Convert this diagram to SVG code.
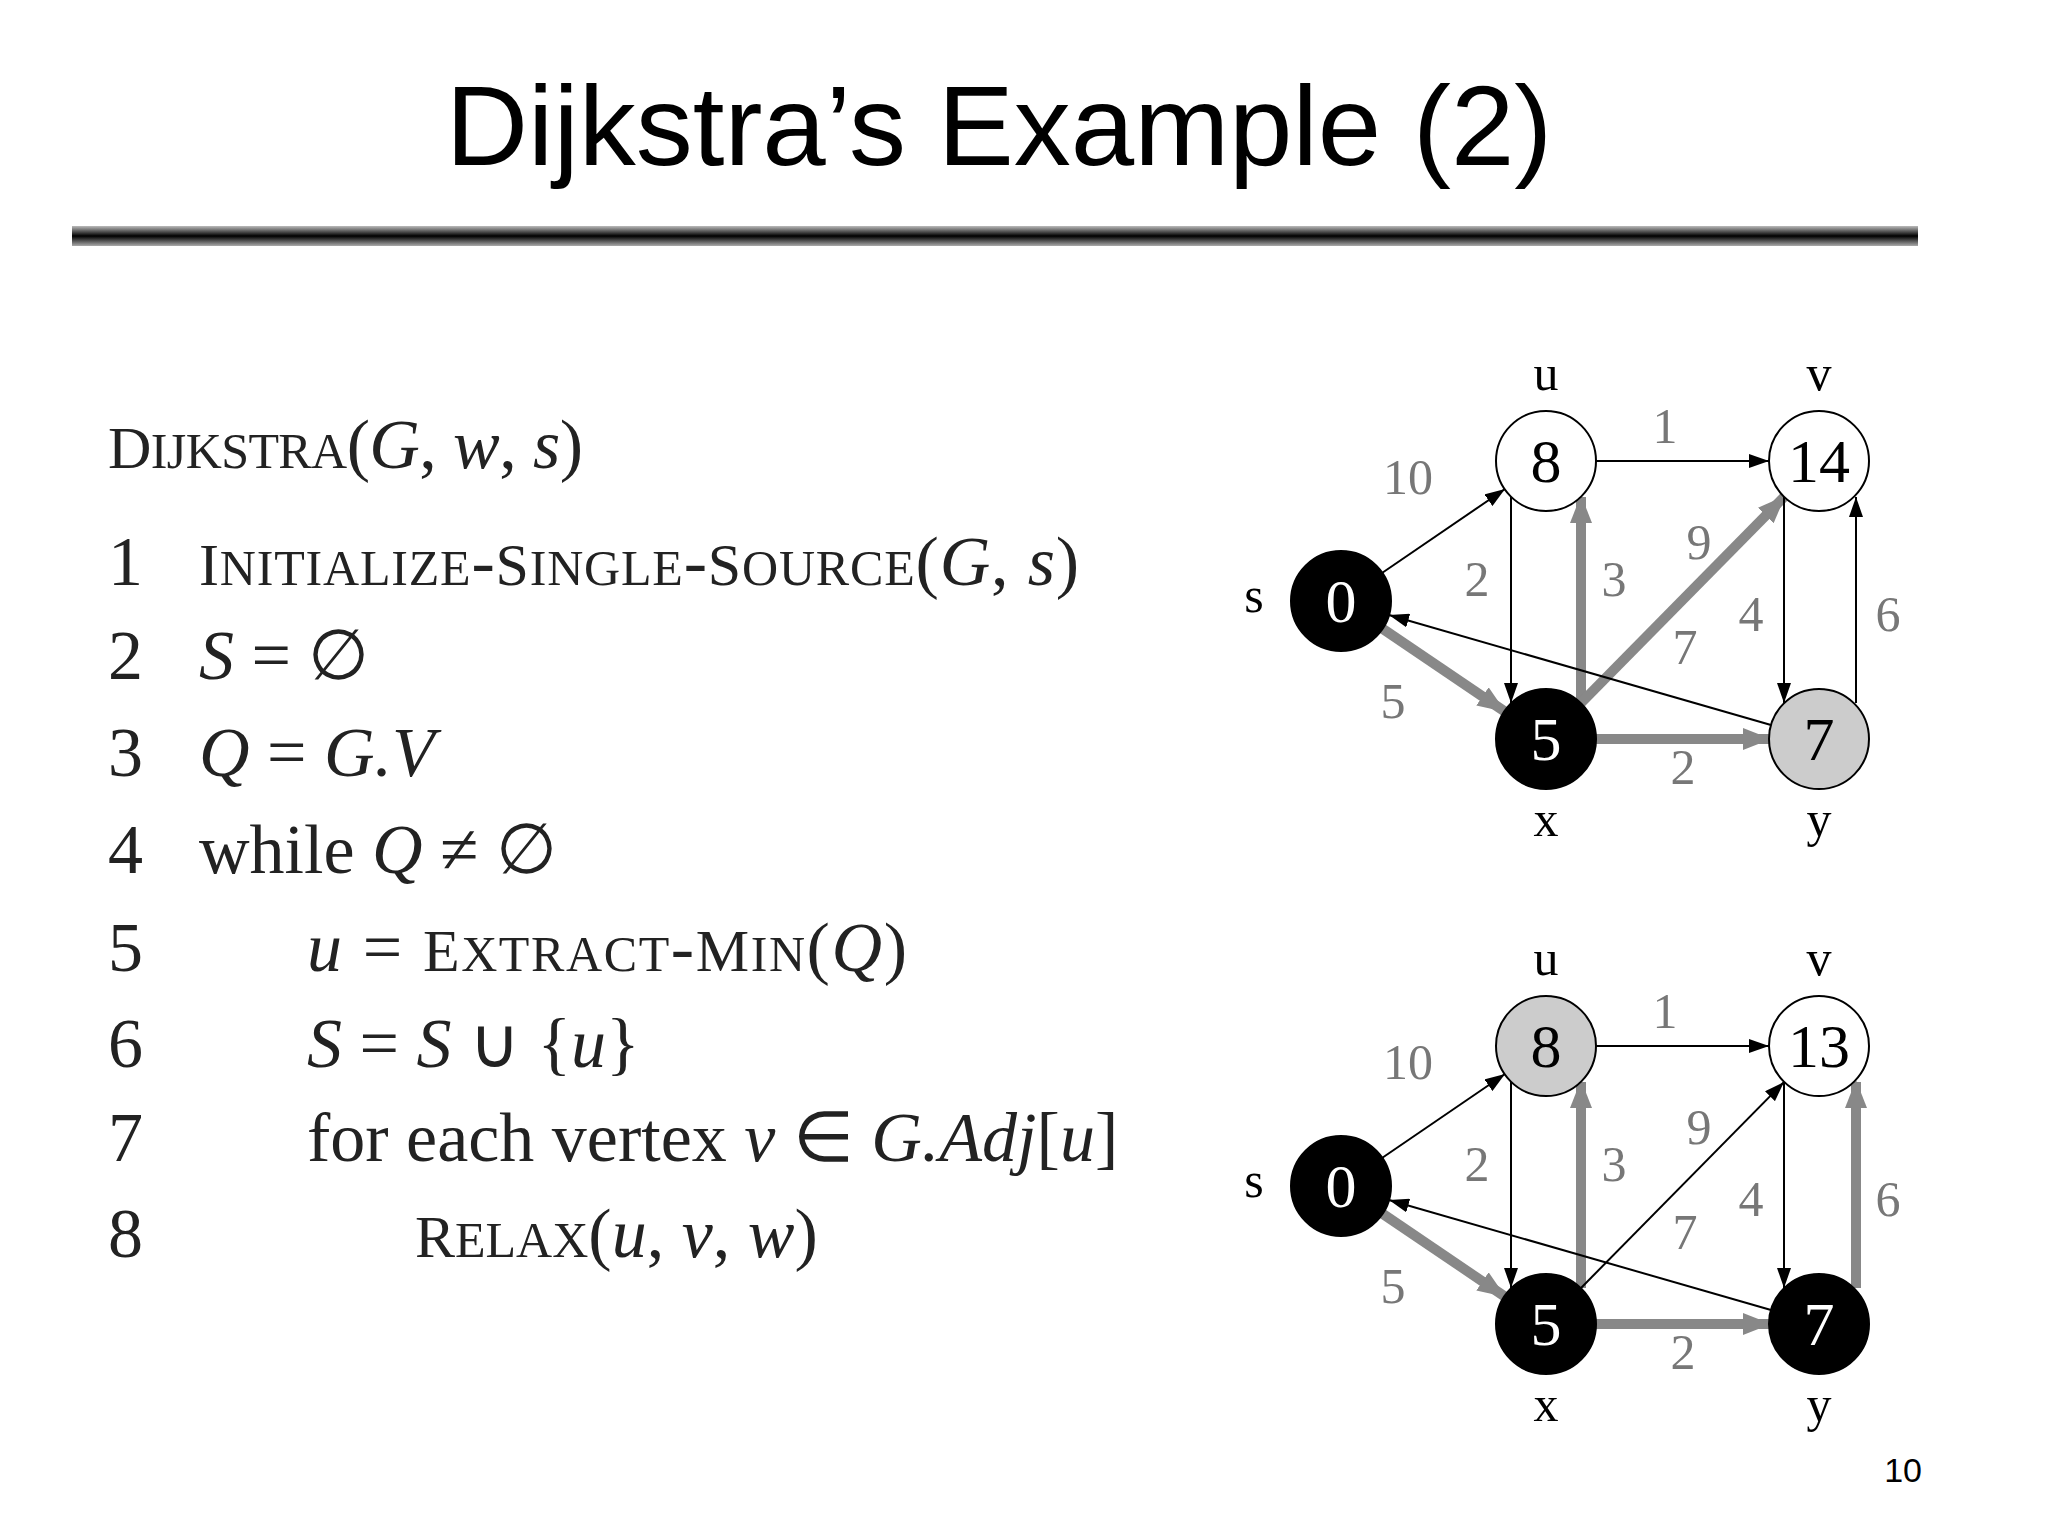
<svg xmlns="http://www.w3.org/2000/svg" width="2048" height="1536" viewBox="0 0 2048 1536">
<defs>
<linearGradient id="bar" x1="0" y1="0" x2="0" y2="1"><stop offset="0" stop-color="#bbb"/><stop offset="0.5" stop-color="#000"/><stop offset="1" stop-color="#aaa"/></linearGradient>
<marker id="ab" markerUnits="userSpaceOnUse" markerWidth="20" markerHeight="14" refX="20" refY="7" orient="auto"><path d="M0,0 L20,7 L0,14 z" fill="#000"/></marker>
<marker id="ag" markerUnits="userSpaceOnUse" markerWidth="28" markerHeight="22" refX="26" refY="11" orient="auto"><path d="M0,0 L28,11 L0,22 z" fill="#888"/></marker>
</defs>
<style>
.t{font-family:"Liberation Sans",Arial,sans-serif}
.c{font-family:"Liberation Serif","Times New Roman",serif;font-size:70px;fill:#222}
.thin{stroke:#000;stroke-width:2;fill:none;marker-end:url(#ab)}
.thick{stroke:#888;stroke-width:10;fill:none;marker-end:url(#ag)}
.n{stroke:#000;stroke-width:2}
.nv{font-family:"Liberation Serif","Times New Roman",serif;font-size:62px;text-anchor:middle}
.lb{font-family:"Liberation Serif","Times New Roman",serif;font-size:50px;text-anchor:middle;fill:#000}
.w{font-family:"Liberation Serif","Times New Roman",serif;font-size:50px;text-anchor:middle;fill:#777}
</style>
<rect width="2048" height="1536" fill="#fff"/>
<text class="t" x="999" y="165" font-size="114" text-anchor="middle">Dijkstra’s Example (2)</text>
<rect x="72" y="226" width="1846" height="20" fill="url(#bar)"/>
<text class="t" x="1922" y="1482" font-size="34" text-anchor="end">10</text>
<g id="code">
<text class="c" x="108" y="468" textLength="475"><tspan font-size="60">D</tspan><tspan font-size="50">IJKSTRA</tspan>(<tspan font-style="italic">G</tspan>, <tspan font-style="italic">w</tspan>, <tspan font-style="italic">s</tspan>)</text>
<text class="c" x="108" y="585">1</text><text class="c" x="199" y="585" textLength="880"><tspan font-size="60">I</tspan><tspan font-size="50">NITIALIZE</tspan>-<tspan font-size="60">S</tspan><tspan font-size="50">INGLE</tspan>-<tspan font-size="60">S</tspan><tspan font-size="50">OURCE</tspan>(<tspan font-style="italic">G</tspan>, <tspan font-style="italic">s</tspan>)</text>
<text class="c" x="108" y="679">2</text><text class="c" x="199" y="679"><tspan font-style="italic">S</tspan> = ∅</text>
<text class="c" x="108" y="776">3</text><text class="c" x="199" y="776"><tspan font-style="italic">Q</tspan> = <tspan font-style="italic">G.V</tspan></text>
<text class="c" x="108" y="873">4</text><text class="c" x="199" y="873">while <tspan font-style="italic">Q</tspan> ≠ ∅</text>
<text class="c" x="108" y="971">5</text><text class="c" x="307" y="971" textLength="600"><tspan font-style="italic">u</tspan> = <tspan font-size="60">E</tspan><tspan font-size="50">XTRACT</tspan>-<tspan font-size="60">M</tspan><tspan font-size="50">IN</tspan>(<tspan font-style="italic">Q</tspan>)</text>
<text class="c" x="108" y="1067">6</text><text class="c" x="307" y="1067"><tspan font-style="italic">S</tspan> = <tspan font-style="italic">S</tspan> ∪ {<tspan font-style="italic">u</tspan>}</text>
<text class="c" x="108" y="1161">7</text><text class="c" x="307" y="1161" font-size="66">for each vertex <tspan font-style="italic">v</tspan> ∈ <tspan font-style="italic">G.Adj</tspan>[<tspan font-style="italic">u</tspan>]</text>
<text class="c" x="108" y="1257">8</text><text class="c" x="415" y="1257"><tspan font-size="60">R</tspan><tspan font-size="50">ELAX</tspan>(<tspan font-style="italic">u</tspan>, <tspan font-style="italic">v</tspan>, <tspan font-style="italic">w</tspan>)</text>
</g>
<g id="graph1">
<g id="edges1">
<line class="thin" x1="1382" y1="573" x2="1505" y2="489"/>
<line class="thin" x1="1596" y1="461" x2="1769" y2="461"/>
<line class="thin" x1="1511" y1="497" x2="1511" y2="703"/>
<line class="thick" x1="1581" y1="703" x2="1581" y2="497"/>
<line class="thick" x1="1581" y1="703" x2="1784" y2="497"/>
<line class="thin" x1="1784" y1="497" x2="1784" y2="703"/>
<line class="thin" x1="1856" y1="703" x2="1856" y2="497"/>
<line class="thin" x1="1771" y1="725" x2="1389" y2="615"/>
<line class="thick" x1="1383" y1="629" x2="1504" y2="711"/>
<line class="thick" x1="1596" y1="739" x2="1769" y2="739"/>
</g>
<g class="weights"><text class="w" x="1408" y="494">10</text><text class="w" x="1665" y="443">1</text><text class="w" x="1477" y="596">2</text><text class="w" x="1614" y="596">3</text><text class="w" x="1699" y="559">9</text><text class="w" x="1751" y="631">4</text><text class="w" x="1888" y="631">6</text><text class="w" x="1685" y="664">7</text><text class="w" x="1393" y="718">5</text><text class="w" x="1683" y="784">2</text></g>
<g id="s1"><circle class="n" cx="1341" cy="601" r="50" fill="#000"/><text class="nv" x="1341" y="622" fill="#fff">0</text><text class="lb" x="1254" y="612">s</text></g>
<g id="u1"><circle class="n" cx="1546" cy="461" r="50" fill="#fff"/><text class="nv" x="1546" y="482">8</text><text class="lb" x="1546" y="390">u</text></g>
<g id="v1"><circle class="n" cx="1819" cy="461" r="50" fill="#fff"/><text class="nv" x="1819" y="482">14</text><text class="lb" x="1819" y="390">v</text></g>
<g id="x1"><circle class="n" cx="1546" cy="739" r="50" fill="#000"/><text class="nv" x="1546" y="760" fill="#fff">5</text><text class="lb" x="1546" y="836">x</text></g>
<g id="y1"><circle class="n" cx="1819" cy="739" r="50" fill="#ccc"/><text class="nv" x="1819" y="760">7</text><text class="lb" x="1819" y="836">y</text></g>
</g>
<g id="graph2" transform="translate(0,585)">
<g id="edges2">
<line class="thin" x1="1382" y1="573" x2="1505" y2="489"/>
<line class="thin" x1="1596" y1="461" x2="1769" y2="461"/>
<line class="thin" x1="1511" y1="497" x2="1511" y2="703"/>
<line class="thick" x1="1581" y1="703" x2="1581" y2="497"/>
<line class="thin" x1="1581" y1="703" x2="1784" y2="497"/>
<line class="thin" x1="1784" y1="497" x2="1784" y2="703"/>
<line class="thick" x1="1856" y1="703" x2="1856" y2="497"/>
<line class="thin" x1="1771" y1="725" x2="1389" y2="615"/>
<line class="thick" x1="1383" y1="629" x2="1504" y2="711"/>
<line class="thick" x1="1596" y1="739" x2="1769" y2="739"/>
</g>
<g class="weights"><text class="w" x="1408" y="494">10</text><text class="w" x="1665" y="443">1</text><text class="w" x="1477" y="596">2</text><text class="w" x="1614" y="596">3</text><text class="w" x="1699" y="559">9</text><text class="w" x="1751" y="631">4</text><text class="w" x="1888" y="631">6</text><text class="w" x="1685" y="664">7</text><text class="w" x="1393" y="718">5</text><text class="w" x="1683" y="784">2</text></g>
<g id="s2"><circle class="n" cx="1341" cy="601" r="50" fill="#000"/><text class="nv" x="1341" y="622" fill="#fff">0</text><text class="lb" x="1254" y="612">s</text></g>
<g id="u2"><circle class="n" cx="1546" cy="461" r="50" fill="#ccc"/><text class="nv" x="1546" y="482">8</text><text class="lb" x="1546" y="390">u</text></g>
<g id="v2"><circle class="n" cx="1819" cy="461" r="50" fill="#fff"/><text class="nv" x="1819" y="482">13</text><text class="lb" x="1819" y="390">v</text></g>
<g id="x2"><circle class="n" cx="1546" cy="739" r="50" fill="#000"/><text class="nv" x="1546" y="760" fill="#fff">5</text><text class="lb" x="1546" y="836">x</text></g>
<g id="y2"><circle class="n" cx="1819" cy="739" r="50" fill="#000"/><text class="nv" x="1819" y="760" fill="#fff">7</text><text class="lb" x="1819" y="836">y</text></g>
</g>
</svg>
